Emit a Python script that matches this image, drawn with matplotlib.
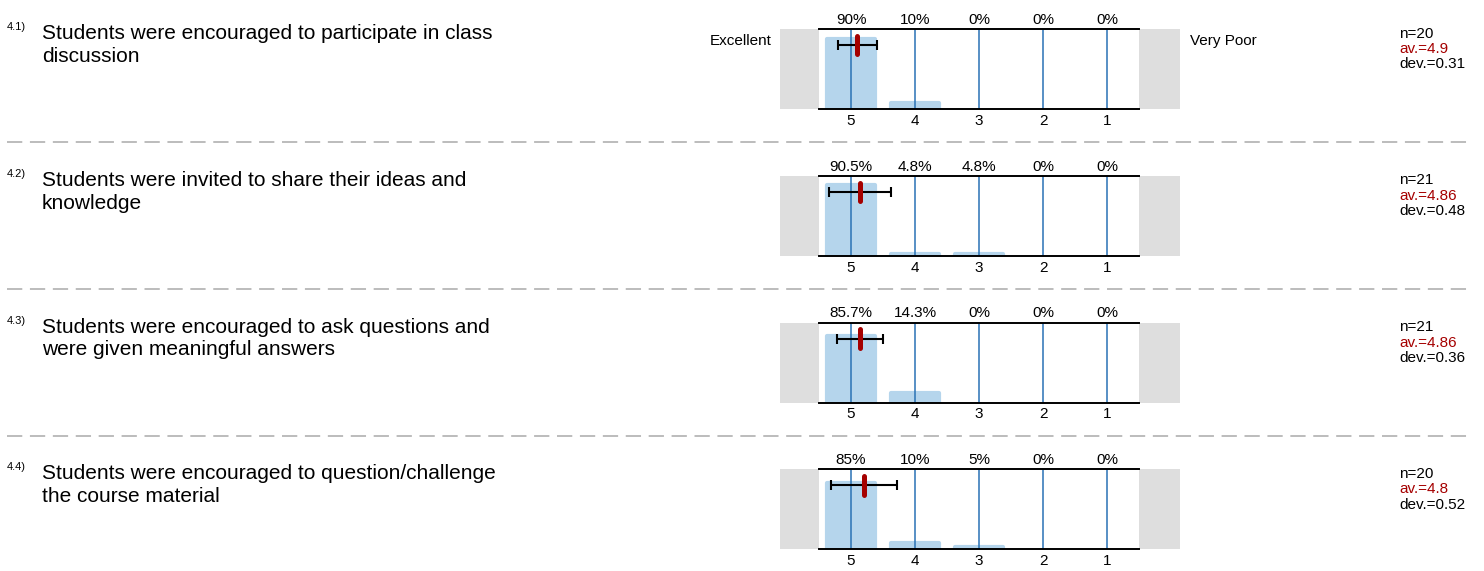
import matplotlib
matplotlib.use("Agg")
import matplotlib.pyplot as plt
from matplotlib.lines import Line2D
from matplotlib.patches import Rectangle

plt.rcParams['font.family'] = ['Liberation Sans', 'DejaVu Sans']

# ---------------- data ----------------
numbers = ["4.1)", "4.2)", "4.3)", "4.4)"]
questions = [
    "Students were encouraged to participate in class\ndiscussion",
    "Students were invited to share their ideas and\nknowledge",
    "Students were encouraged to ask questions and\nwere given meaningful answers",
    "Students were encouraged to question/challenge\nthe course material",
]
ratings = [5, 4, 3, 2, 1]
pcts = [
    [90, 10, 0, 0, 0],
    [90.5, 4.8, 4.8, 0, 0],
    [85.7, 14.3, 0, 0, 0],
    [85, 10, 5, 0, 0],
]
ns = [20, 21, 21, 20]
means = [4.9, 4.86, 4.86, 4.8]
devs = [0.31, 0.48, 0.36, 0.52]
left_label = "Excellent"
right_label = "Very Poor"

# ---------------- layout ----------------
W, H = 1484, 571
fig = plt.figure(figsize=(W / 100, H / 100), dpi=100)

def fx(px):
    return px / W

def fy(py):
    return 1 - py / H

AX_L, AX_R = 819, 1139
AX_H = 80
ROW0, ROW_STEP = 29, 146.8
GRAY = '#dedede'
BAR_C = '#b5d5ec'
LINE_C = '#2a72b5'
RED = '#a50000'

for i in range(len(questions)):
    top = ROW0 + ROW_STEP * i
    ax = fig.add_axes([fx(AX_L), fy(top + AX_H), (AX_R - AX_L) / W, AX_H / H])
    ax.set_xlim(5.5, 0.5)
    ax.set_ylim(0, 100)
    for s in ['left', 'right']:
        ax.spines[s].set_visible(False)
    for s in ['top', 'bottom']:
        ax.spines[s].set_linewidth(1.4)
        ax.spines[s].set_color('black')
        ax.spines[s].set_zorder(6)
    ax.set_yticks([])
    ax.set_xticks(ratings)
    ax.set_xticklabels([str(r) for r in ratings], fontsize=11)
    ax.tick_params(axis='x', length=0, pad=3.5)

    # grey side boxes
    ax.add_patch(Rectangle((-39 / 320, 0), 39 / 320, 1, transform=ax.transAxes,
                           facecolor=GRAY, edgecolor='none', clip_on=False, zorder=0))
    ax.add_patch(Rectangle((1, 0), 41 / 320, 1, transform=ax.transAxes,
                           facecolor=GRAY, edgecolor='none', clip_on=False, zorder=0))

    # bars (rounded corners via round join edge)
    xs = [r for r, v in zip(ratings, pcts[i]) if v > 0]
    vs = [v for v in pcts[i] if v > 0]
    hs = [max(v - 2.2, 0.5) for v in vs]
    ax.bar(xs, hs, width=0.74, color=BAR_C, edgecolor=BAR_C, linewidth=3,
           joinstyle='round', zorder=2, bottom=0)

    # vertical lines
    for r in ratings:
        ax.axvline(r, color=LINE_C, lw=1.1, zorder=3)

    # percent labels
    for r, v in zip(ratings, pcts[i]):
        ax.text(r, 1.115, f"{v:g}%", transform=ax.get_xaxis_transform(),
                ha='center', va='center', fontsize=11)

    # error bar + mean marker
    ax.errorbar(means[i], 80, xerr=devs[i], fmt='none', ecolor='black',
                elinewidth=1.5, capsize=3.8, capthick=1.5, zorder=4)
    ax.plot([means[i], means[i]], [91.5, 68.5], color=RED, lw=3.6,
            solid_capstyle='round', zorder=5)

    if i == 0:
        ax.text(-0.147, 0.85, left_label, transform=ax.transAxes,
                ha='right', va='center', fontsize=11)
        ax.text(1.158, 0.85, right_label, transform=ax.transAxes,
                ha='left', va='center', fontsize=11)

    # stats
    fig.text(fx(1399), fy(top + 4.5), f"n={ns[i]}", ha='left', va='center', fontsize=11)
    fig.text(fx(1399), fy(top + 20), f"av.={means[i]:g}", ha='left', va='center',
             fontsize=11, color=RED)
    fig.text(fx(1399), fy(top + 35.5), f"dev.={devs[i]:g}", ha='left', va='center',
             fontsize=11)

    # question text
    fig.text(fx(7), fy(top - 2), numbers[i], ha='left', va='center', fontsize=8)
    fig.text(fx(42), fy(top - 5), questions[i], ha='left', va='top', fontsize=15,
             linespacing=1.25)

    # separator
    if i < len(questions) - 1:
        fig.add_artist(Line2D([fx(7), fx(1472)], [fy(top + 113)] * 2,
                              color='#aaaaaa', lw=1.1, dashes=(10, 5)))

fig.savefig("out.png", dpi=100)
